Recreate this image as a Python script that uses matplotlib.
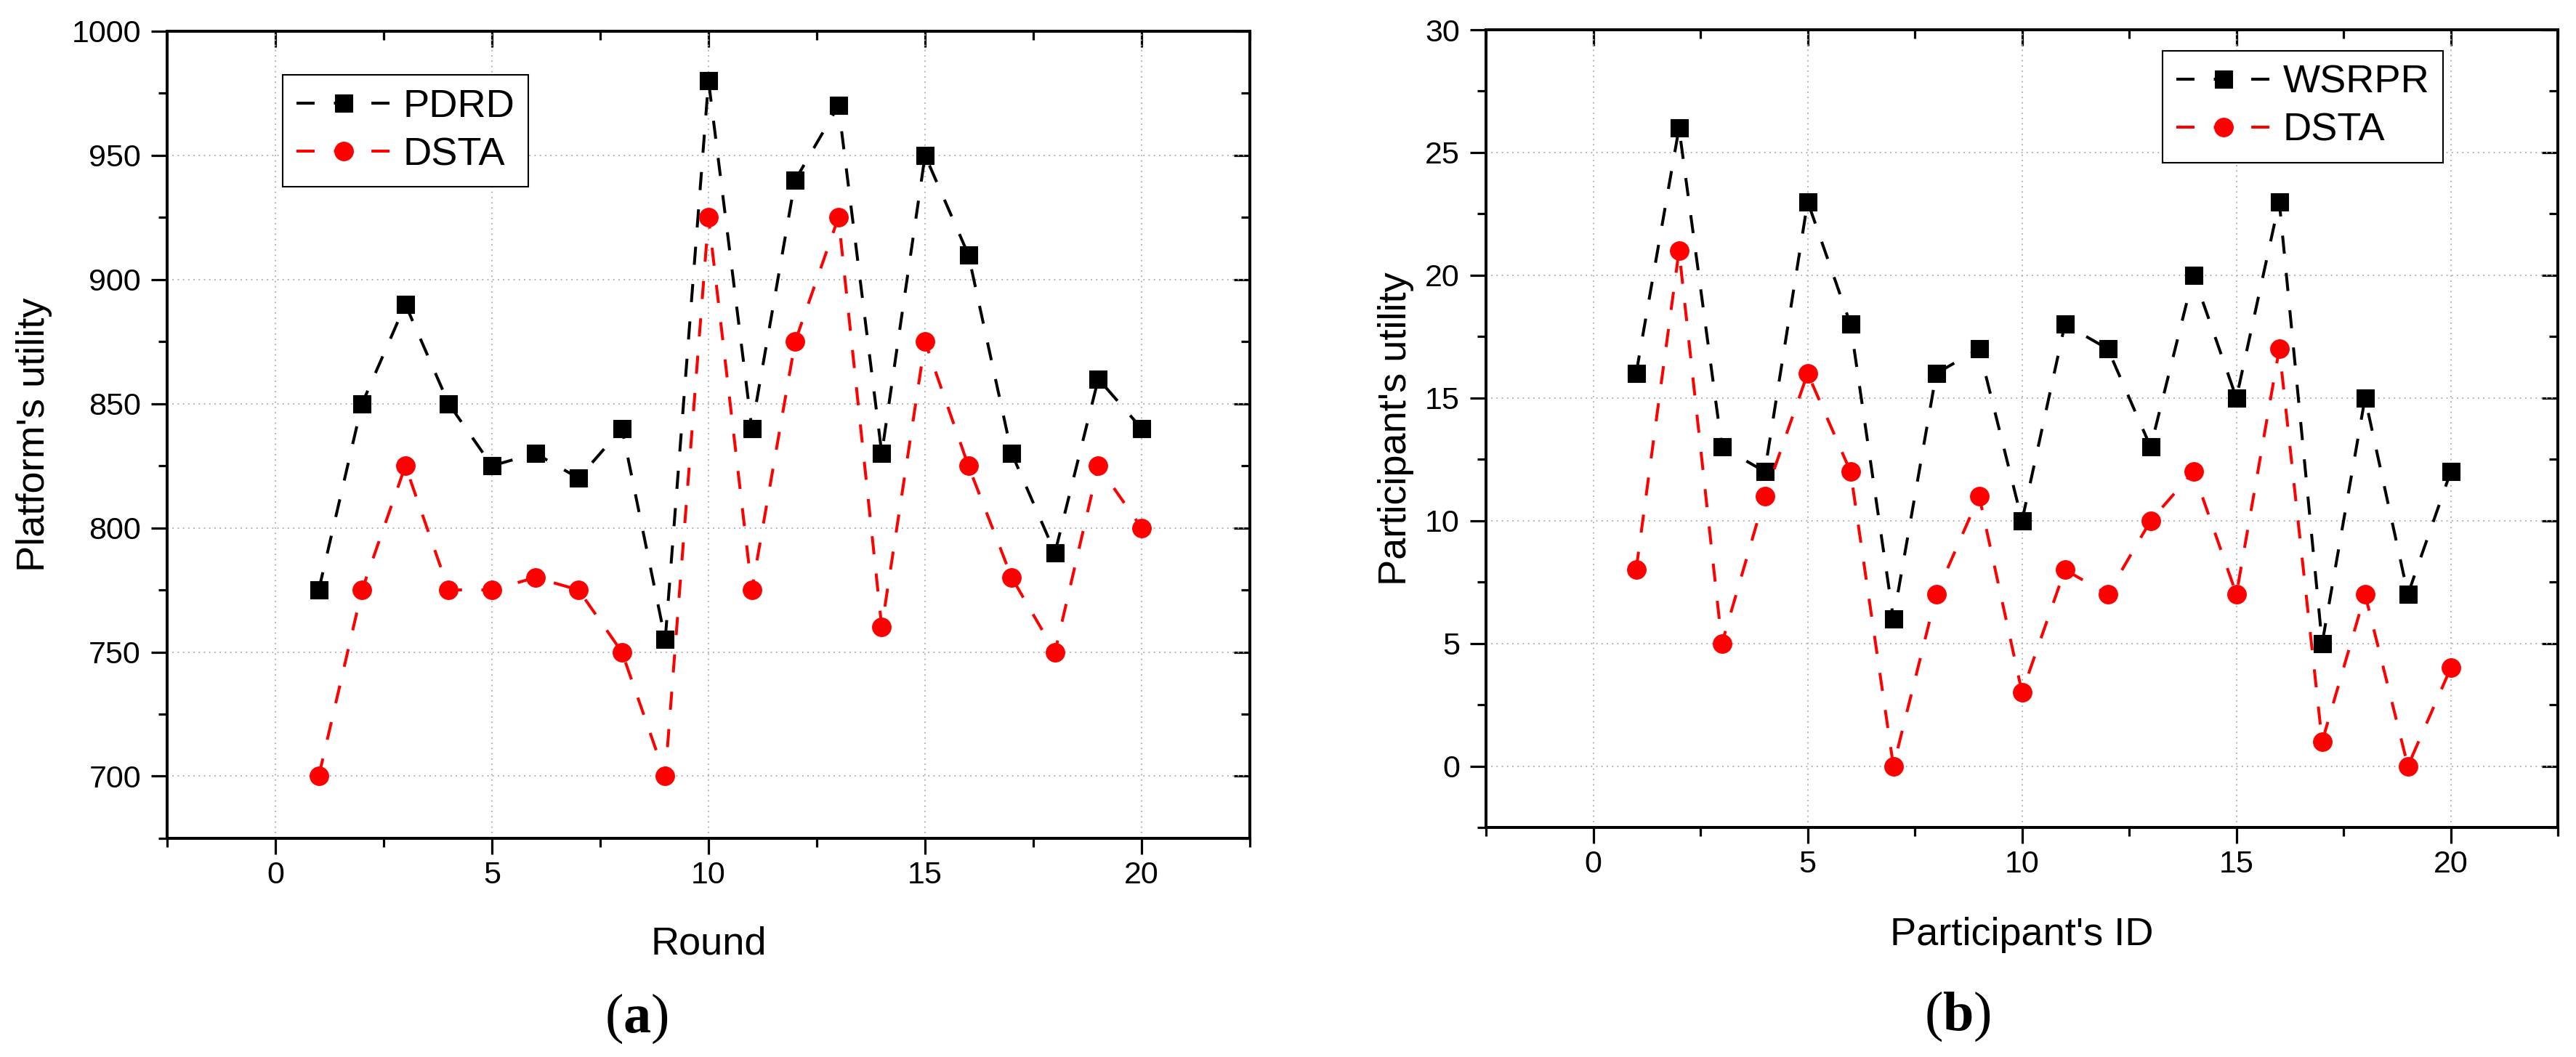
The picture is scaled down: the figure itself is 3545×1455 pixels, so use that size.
import matplotlib
matplotlib.use('Agg')
import matplotlib.pyplot as plt
from matplotlib.ticker import MultipleLocator
import numpy as np

plt.rcParams['font.family'] = ['Liberation Sans', 'DejaVu Sans']
plt.rcParams['mathtext.fontset'] = 'custom'
plt.rcParams['mathtext.bf'] = 'Liberation Serif:bold'

# (a) platform utility per round
rounds = np.arange(1, 21)
pdrd = [775, 850, 890, 850, 825, 830, 820, 840, 755, 980,
        840, 940, 970, 830, 950, 910, 830, 790, 860, 840]
dsta_platform = [700, 775, 825, 775, 775, 780, 775, 750, 700, 925,
                 775, 875, 925, 760, 875, 825, 780, 750, 825, 800]

# (b) participant utility per participant id
ids = np.arange(1, 21)
wsrpr = [16, 26, 13, 12, 23, 18, 6, 16, 17, 10,
         18, 17, 13, 20, 15, 23, 5, 15, 7, 12]
dsta_part = [8, 21, 5, 11, 16, 12, 0, 7, 11, 3,
             8, 7, 10, 12, 7, 17, 1, 7, 0, 4]

TICK_FS = 31
LABEL_FS = 39
LW = 2.9
DASH = (6.2, 6.6)

fig = plt.figure(figsize=(35.45, 14.55), dpi=100)
ax1 = fig.add_axes([0.0649, 0.2069, 0.4203, 0.7636])
ax2 = fig.add_axes([0.5769, 0.2172, 0.4161, 0.7546])


def style_axes(ax, xlim, ylim, ymaj, ymin):
    ax.set_xlim(*xlim)
    ax.set_ylim(*ylim)
    ax.xaxis.set_major_locator(MultipleLocator(5))
    ax.xaxis.set_minor_locator(MultipleLocator(2.5))
    ax.yaxis.set_major_locator(MultipleLocator(ymaj))
    ax.yaxis.set_minor_locator(MultipleLocator(ymin))
    for s in ax.spines.values():
        s.set_linewidth(2.9)
    ax.tick_params(which='both', direction='out', width=2.3, top=False, right=False)
    ax.tick_params(which='major', length=16)
    ax.tick_params(which='minor', length=8.6)
    ax.tick_params(axis='x', which='major', labelsize=TICK_FS, pad=6)
    ax.tick_params(axis='y', which='major', labelsize=TICK_FS, pad=10)
    ax.grid(True, which='major', linestyle=(0, (1, 3)), color='#aaaaaa', linewidth=1.3)
    ax.set_axisbelow(True)
    # inward ticks on top and right like Origin
    top = ax.secondary_xaxis('top')
    top.xaxis.set_major_locator(MultipleLocator(5))
    top.xaxis.set_minor_locator(MultipleLocator(2.5))
    top.tick_params(which='both', direction='in', width=2.3, labeltop=False)
    top.tick_params(which='major', length=16)
    top.tick_params(which='minor', length=8.6)
    top.spines['top'].set_linewidth(2.9)
    right = ax.secondary_yaxis('right')
    right.yaxis.set_major_locator(MultipleLocator(ymaj))
    right.yaxis.set_minor_locator(MultipleLocator(ymin))
    right.tick_params(which='both', direction='in', width=2.3, labelright=False)
    right.tick_params(which='major', length=16)
    right.tick_params(which='minor', length=8.6)
    right.spines['right'].set_linewidth(2.9)


def draw(ax, x, y, color, marker, ms, label):
    ax.plot(x, y, color=color, linestyle='--', dashes=DASH, linewidth=LW,
            marker=marker, markersize=ms, markeredgewidth=0.8,
            markerfacecolor=color, markeredgecolor=color, label=label,
            clip_on=False, zorder=3)


# panel a
style_axes(ax1, (-2.5, 22.5), (675, 1000), 50, 25)
draw(ax1, rounds, pdrd, 'black', 's', 17.5, 'PDRD')
draw(ax1, rounds, dsta_platform, 'red', 'o', 18.5, 'DSTA')
ax1.set_xlabel('Round', fontsize=LABEL_FS, va='center')
ax1.xaxis.set_label_coords(0.5, -0.131)
ax1.set_ylabel("Platform's utility", fontsize=LABEL_FS, va='center')
ax1.yaxis.set_label_coords(-0.123, 0.5)
leg1 = ax1.legend(loc='upper left', bbox_to_anchor=(0.1067, 0.946), borderaxespad=0,
                  fontsize=LABEL_FS, handlelength=2.4, handletextpad=0.3,
                  labelspacing=0.3, borderpad=0.35, fancybox=False, framealpha=1)
leg1.get_frame().set_edgecolor('black')
leg1.get_frame().set_linewidth(1.5)

# panel b
style_axes(ax2, (-2.5, 22.5), (-2.5, 30), 5, 2.5)
draw(ax2, ids, wsrpr, 'black', 's', 17.5, 'WSRPR')
draw(ax2, ids, dsta_part, 'red', 'o', 18.5, 'DSTA')
ax2.set_xlabel("Participant's ID", fontsize=LABEL_FS, va='center')
ax2.xaxis.set_label_coords(0.5, -0.135)
ax2.set_ylabel("Participant's utility", fontsize=LABEL_FS, va='center')
ax2.yaxis.set_label_coords(-0.084, 0.5)
leg2 = ax2.legend(loc='upper right', bbox_to_anchor=(0.893, 0.974), borderaxespad=0,
                  fontsize=LABEL_FS, handlelength=2.4, handletextpad=0.3,
                  labelspacing=0.3, borderpad=0.35, fancybox=False, framealpha=1)
leg2.get_frame().set_edgecolor('black')
leg2.get_frame().set_linewidth(1.5)

# panel captions
fig.text(0.247, 0.036, r'($\mathbf{a}$)', fontsize=55, family='Liberation Serif',
         ha='center', va='center')
fig.text(0.760, 0.038, r'($\mathbf{b}$)', fontsize=55, family='Liberation Serif',
         ha='center', va='center')

fig.savefig('out.png', dpi=100)
